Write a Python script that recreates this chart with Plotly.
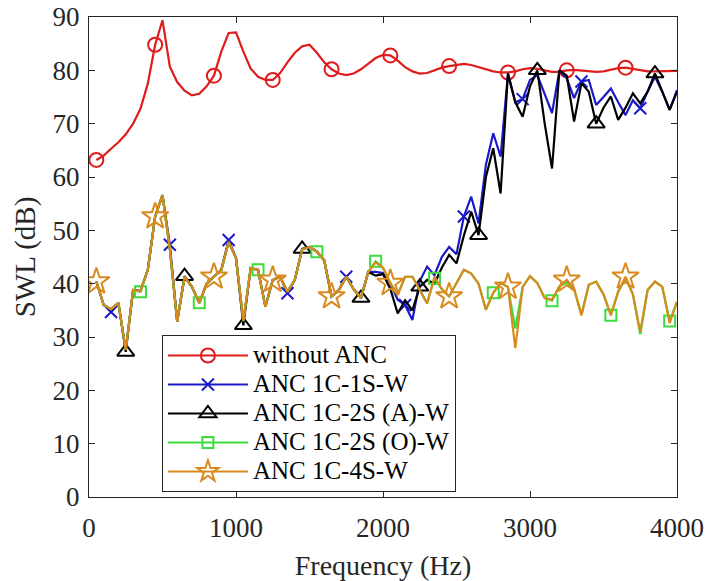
import plotly.graph_objects as go

freq = list(range(50, 4001, 50))

swl_without = [63.2, 64.0, 65.3, 66.5, 68.0, 70.0, 72.8, 77.5, 84.8, 89.4,
               80.7, 77.8, 76.2, 75.3, 75.6, 77.0, 79.0, 83.5, 87.0, 87.1,
               83.5, 80.3, 78.8, 78.2, 78.2, 79.5, 81.5, 83.3, 84.5, 84.8,
               83.3, 81.5, 80.2, 79.4, 79.1, 79.4, 80.2, 81.3, 82.3, 82.9,
               82.8, 81.8, 80.6, 79.8, 79.4, 79.5, 80.0, 80.5, 80.8, 81.0,
               81.2, 81.0, 80.6, 80.2, 79.8, 79.6, 79.6, 79.8, 80.2, 80.4,
               80.3, 80.0, 79.7, 79.7, 80.0, 80.1, 80.0, 79.8, 79.7, 79.8,
               80.1, 80.4, 80.5, 80.3, 80.0, 79.8, 79.8, 79.8, 79.8, 79.9]

swl_1s = [40.4, 36.0, 34.7, 36.4, 27.6, 38.8, 38.6, 42.6, 52.6, 56.6,
          47.3, 32.9, 41.3, 39.4, 36.4, 40.0, 41.3, 42.6, 48.2, 44.8,
          33.0, 42.9, 42.6, 35.7, 40.7, 41.3, 38.2, 40.7, 46.4, 46.9,
          46.0, 44.4, 37.6, 38.8, 41.3, 39.0, 37.3, 42.2, 42.2, 42.0,
          40.0, 37.0, 36.0, 33.2, 40.5, 43.2, 41.6, 45.0, 46.9, 45.5,
          52.6, 56.3, 51.3, 62.3, 68.2, 63.8, 79.4, 74.0, 74.6, 78.2,
          79.1, 75.5, 72.0, 80.0, 78.5, 74.8, 77.9, 78.2, 73.5, 75.0,
          76.6, 74.0, 71.6, 74.4, 72.9, 76.0, 78.8, 76.0, 72.6, 76.3]

swl_2s_a = [40.4, 36.0, 35.2, 36.4, 27.2, 38.8, 38.6, 42.6, 52.6, 56.6,
            46.5, 32.9, 41.4, 39.4, 36.4, 40.0, 41.3, 42.6, 47.8, 44.8,
            32.2, 42.9, 42.6, 35.7, 40.7, 41.3, 38.5, 40.7, 46.5, 46.9,
            46.0, 44.4, 37.6, 38.8, 41.3, 39.0, 37.3, 42.2, 41.5, 41.8,
            39.0, 34.4, 36.9, 35.0, 39.4, 40.7, 40.0, 43.0, 45.4, 43.8,
            49.0, 53.5, 49.1, 60.0, 65.4, 56.9, 79.4, 74.0, 71.3, 77.0,
            80.0, 70.0, 61.6, 80.0, 79.0, 70.4, 77.6, 76.0, 70.0, 73.0,
            75.1, 70.7, 73.0, 75.7, 73.8, 76.0, 79.4, 76.0, 72.6, 76.0]

swl_2s_o = [40.4, 36.0, 35.2, 36.4, 27.6, 38.8, 38.5, 42.6, 52.6, 56.6,
            46.5, 32.9, 41.3, 39.4, 36.4, 40.0, 41.3, 42.6, 47.8, 44.8,
            33.0, 42.9, 42.6, 35.7, 40.7, 41.3, 38.5, 40.7, 46.4, 46.9,
            46.0, 44.4, 37.6, 38.8, 41.3, 39.0, 37.3, 42.2, 44.2, 43.0,
            40.1, 37.9, 41.3, 41.3, 38.8, 36.3, 41.0, 39.0, 37.6, 40.0,
            42.6, 41.9, 40.0, 35.1, 38.3, 40.1, 39.4, 31.6, 39.4, 41.4,
            40.1, 37.3, 36.8, 39.5, 40.2, 39.0, 34.1, 39.8, 40.4, 38.0,
            34.1, 38.5, 41.0, 38.0, 30.5, 38.8, 40.4, 39.4, 33.0, 36.6]

swl_4s = [40.4, 36.0, 35.2, 36.4, 27.6, 38.8, 38.6, 42.6, 52.6, 56.6,
          46.5, 32.9, 41.3, 39.4, 36.4, 40.0, 41.3, 42.6, 47.8, 44.8,
          33.0, 42.9, 42.6, 35.7, 40.7, 41.3, 38.5, 40.7, 46.4, 46.9,
          46.0, 44.4, 37.6, 38.8, 41.3, 39.0, 37.3, 42.2, 44.0, 43.0,
          40.1, 37.9, 41.3, 41.3, 38.8, 36.3, 41.3, 39.0, 37.6, 40.0,
          42.6, 41.9, 40.0, 35.1, 38.3, 40.1, 39.4, 27.9, 39.4, 41.4,
          40.1, 37.3, 37.0, 39.5, 40.7, 39.0, 34.1, 39.8, 40.4, 38.0,
          34.1, 38.5, 41.3, 38.0, 31.0, 38.8, 40.4, 39.4, 32.6, 36.6]

series_names = ["without ANC", "ANC 1C-1S-W", "ANC 1C-2S (A)-W",
                "ANC 1C-2S (O)-W", "ANC 1C-4S-W"]
series_values = [swl_without, swl_1s, swl_2s_a, swl_2s_o, swl_4s]
marker_offsets = [0, 2, 4, 6, 0]

colors = ["#E01B1B", "#1A1AC8", "#000000", "#3CDC3C", "#D98A1E"]
symbols = ["circle-open", "x-thin-open", "triangle-up-open", "square-open", "star-open"]
sizes = [14, 12, 15, 11, 20]
FONT = "Liberation Serif"

fig = go.Figure()
for name, vals, off, col, sym, sz in zip(series_names, series_values, marker_offsets,
                                          colors, symbols, sizes):
    fig.add_trace(go.Scatter(x=freq, y=vals, mode="lines",
                             line=dict(color=col, width=2.2),
                             showlegend=False, hoverinfo="skip"))
    fig.add_trace(go.Scatter(x=freq[off::8], y=vals[off::8], mode="markers",
                             marker=dict(symbol=sym, size=sz, color=col,
                                         line=dict(color=col, width=2)),
                             showlegend=False))

for name, col, sym, sz in zip(series_names, colors, symbols, sizes):
    fig.add_trace(go.Scatter(x=[None], y=[None], mode="lines+markers",
                             name='<span style="font-size:25px">%s</span>' % name,
                             line=dict(color=col, width=2.2),
                             marker=dict(symbol=sym, size=min(sz, 16), color=col,
                                         line=dict(color=col, width=2))))

axis_common = dict(
    showgrid=False, zeroline=False, showline=True, linecolor="#262626", linewidth=1,
    mirror="ticks", ticks="inside", ticklen=6, tickcolor="#262626", automargin=False,
    tickfont=dict(family=FONT, size=27, color="#262626"),
)

fig.update_layout(
    width=707, height=581,
    margin=dict(l=89, r=30, t=17, b=84),
    paper_bgcolor="white", plot_bgcolor="white",
    xaxis=dict(range=[0, 4000], tickvals=[0, 1000, 2000, 3000, 4000],
               ticklabelstandoff=7,
               title=dict(text="Frequency (Hz)", font=dict(family=FONT, size=28, color="#262626"),
                          standoff=14),
               **axis_common),
    yaxis=dict(range=[0, 90], tickvals=list(range(0, 91, 10)),
               ticklabelstandoff=3,
               title=dict(text="SWL (dB)", font=dict(family=FONT, size=29, color="#262626"),
                          standoff=8),
               **axis_common),
    legend=dict(x=0.124, y=0.3375, xanchor="left", yanchor="top",
                bgcolor="white", bordercolor="#262626", borderwidth=1,
                font=dict(family=FONT, size=20, color="#000000"),
                itemwidth=80, tracegroupgap=0),
    showlegend=True,
)

fig.write_html("out.html")
